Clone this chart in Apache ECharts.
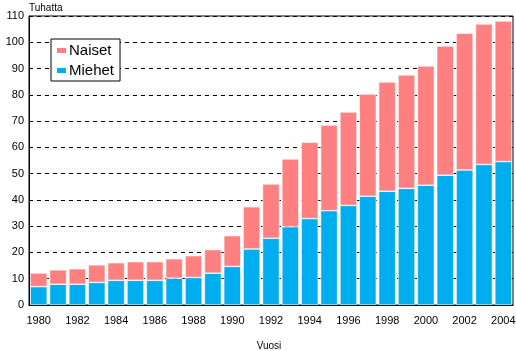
<!DOCTYPE html>
<html>
<head>
<meta charset="utf-8">
<script src="https://cdn.jsdelivr.net/npm/echarts@6/dist/echarts.min.js"></script>
<style>
  html, body { margin: 0; padding: 0; background: #fff; }
  #main { width: 516px; height: 351px; }
</style>
</head>
<body>
<div id="main"></div>
<script>
// vuodet
var years = ['1980', '1981', '1982', '1983', '1984', '1985', '1986', '1987', '1988', '1989',
    '1990', '1991', '1992', '1993', '1994', '1995', '1996', '1997', '1998', '1999',
    '2000', '2001', '2002', '2003', '2004'];

// miehet, tuhatta
var miehet = [7.0, 7.9, 7.9, 8.6, 9.4, 9.4, 9.4, 10.2, 10.5, 12.1,
    14.7, 21.3, 25.4, 29.8, 32.9, 35.9, 37.9, 41.4, 43.3, 44.4,
    45.6, 49.4, 51.4, 53.5, 54.6];

// naiset, tuhatta
var naiset = [5.2, 5.5, 5.9, 6.7, 6.7, 7.1, 7.1, 7.4, 8.3, 9.0,
    11.7, 16.1, 20.7, 25.8, 29.1, 32.6, 35.6, 38.9, 41.6, 43.2,
    45.4, 49.2, 52.1, 53.5, 53.5];

var yTicks = [0, 10, 20, 30, 40, 50, 60, 70, 80, 90, 100, 110];

var fontName = 'Liberation Sans, Arial, sans-serif';

var myChart = echarts.init(document.getElementById('main'));
var option = {
    animation: false,
    backgroundColor: '#fff',
    textStyle: { fontFamily: fontName },
    //yksikkö vasemmassa yläkulmassa
    title: {
        text: 'Tuhatta',
        left: 29,
        top: 3,
        padding: 0,
        textStyle: { fontSize: 10, fontWeight: 'normal', color: '#000', fontFamily: fontName }
    },
    grid: {
        left: 29,
        right: 3,
        top: 16,
        bottom: 46,
        outerBoundsMode: 'none',
        containLabel: false,
        show: true,
        borderColor: '#000',
        borderWidth: 1
    },
    legend: {
        data: ['Naiset', 'Miehet'],
        orient: 'vertical',
        left: 51,
        top: 39,
        backgroundColor: '#fff',
        borderColor: '#000',
        borderWidth: 1,
        borderRadius: 0,
        padding: [4, 6, 3, 4],
        itemGap: 5,
        itemWidth: 11,
        itemHeight: 7,
        icon: 'rect',
        textStyle: { fontSize: 15, color: '#000', fontFamily: fontName, padding: [0, 0, 0, -3] }
    },
    xAxis: {
        type: 'category',
        data: years,
        name: 'Vuosi',
        nameLocation: 'middle',
        nameGap: 36,
        nameTextStyle: { fontSize: 10, color: '#000', padding: [0, 4, 0, 0] },
        axisLine: { lineStyle: { color: '#000', width: 1 } },
        axisTick: { alignWithLabel: true, interval: 1, length: 4, lineStyle: { color: '#000' } },
        axisLabel: { interval: 1, fontSize: 11, color: '#000', margin: 10 }
    },
    yAxis: {
        type: 'value',
        min: yTicks[0],
        max: yTicks[yTicks.length - 1],
        interval: 10,
        axisLine: { show: true, lineStyle: { color: '#000', width: 1 } },
        axisTick: { show: false },
        axisLabel: { fontSize: 11, color: '#000', margin: 5 },
        splitLine: { show: true, lineStyle: { color: '#000', type: [4, 4], width: 1 } }
    },
    series: [
        {
            name: 'Miehet',
            type: 'bar',
            stack: 'yht',
            data: miehet,
            barCategoryGap: '12%',
            itemStyle: { color: '#00aeef', borderColor: '#fff', borderWidth: 0.6 }
        },
        {
            name: 'Naiset',
            type: 'bar',
            stack: 'yht',
            data: naiset,
            barCategoryGap: '12%',
            itemStyle: { color: '#ff8080', borderColor: '#fff', borderWidth: 0.6 }
        }
    ]
};
myChart.setOption(option);
</script>
</body>
</html>
